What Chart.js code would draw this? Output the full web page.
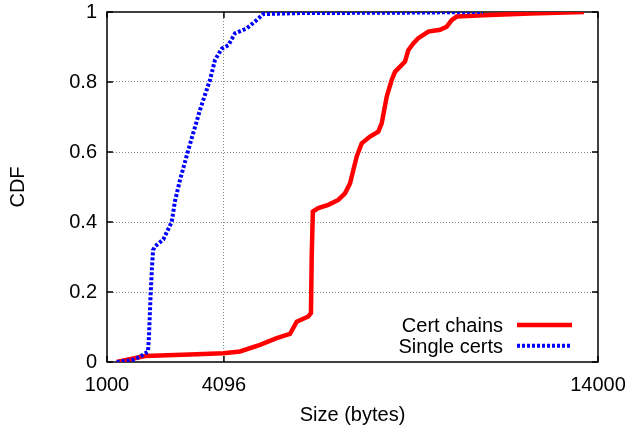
<!DOCTYPE html>
<html><head><meta charset="utf-8">
<script src="https://cdn.jsdelivr.net/npm/chart.js@4/dist/chart.umd.min.js"></script>
<style>html,body{margin:0;padding:0;background:#fff}</style>
</head><body>
<canvas id="c" width="631" height="425" style="display:block;width:631px;height:425px"></canvas>
<script>
// ---- data ----
const seriesLabels = ['Cert chains', 'Single certs'];
const certChainsX = [1257, 1696, 2006, 3000, 4079, 4521, 5051, 5493, 5845, 6023, 6330, 6400, 6420, 6450, 6594, 6859, 7124, 7301, 7434, 7611, 7744, 7964, 8183, 8273, 8406, 8538, 8625, 8890, 8977, 9110, 9242, 9507, 9817, 9994, 10126, 10259, 10964, 12200, 13630];
const certChainsY = [0, 0.01, 0.017, 0.021, 0.025, 0.03, 0.049, 0.068, 0.08, 0.115, 0.13, 0.14, 0.30, 0.43, 0.44, 0.449, 0.463, 0.482, 0.51, 0.587, 0.625, 0.644, 0.658, 0.682, 0.758, 0.806, 0.829, 0.858, 0.891, 0.91, 0.925, 0.944, 0.949, 0.958, 0.977, 0.987, 0.991, 0.996, 1.0];
const singleCertsX = [1257, 1654, 1874, 2086, 2110, 2150, 2190, 2220, 2271, 2491, 2713, 2800, 2933, 3153, 3462, 3727, 3860, 4037, 4212, 4389, 4699, 4964, 5138, 6110, 8758, 10955];
const singleCertsY = [0, 0.005, 0.015, 0.03, 0.07, 0.18, 0.27, 0.32, 0.33, 0.35, 0.40, 0.46, 0.52, 0.606, 0.72, 0.806, 0.863, 0.895, 0.905, 0.939, 0.953, 0.977, 0.994, 0.997, 0.998, 1.0];
const xTickValues = [1000, 4096, 14000];
const yTickValues = [0, 0.2, 0.4, 0.6, 0.8, 1];
const xTitle = 'Size (bytes)';
const yTitle = 'CDF';

const FONT = '"Liberation Sans", Arial, Helvetica, sans-serif';
Chart.defaults.font.family = FONT;
Chart.defaults.color = '#000';

const toPts = (xs, ys) => xs.map((x, i) => ({x: x, y: ys[i]}));

const framePlugin = {
  id: 'frame',
  beforeDatasetsDraw(chart) {
    const {ctx, chartArea: a, scales: {x, y}} = chart;
    ctx.save();
    ctx.strokeStyle = '#000';
    ctx.lineWidth = 1.5;
    ctx.beginPath();
    xTickValues.forEach(v => {
      const px = x.getPixelForValue(v);
      ctx.moveTo(px, a.bottom); ctx.lineTo(px, a.bottom - 6);
      ctx.moveTo(px, a.top); ctx.lineTo(px, a.top + 6);
    });
    yTickValues.forEach(v => {
      const py = y.getPixelForValue(v);
      ctx.moveTo(a.left, py); ctx.lineTo(a.left + 6, py);
      ctx.moveTo(a.right, py); ctx.lineTo(a.right - 6, py);
    });
    ctx.stroke();
    ctx.strokeRect(a.left, a.top, a.right - a.left, a.bottom - a.top);
    ctx.restore();
  }
};

const legendPlugin = {
  id: 'insideLegend',
  afterDraw(chart) {
    const {ctx, chartArea: a} = chart;
    ctx.save();
    ctx.font = '20px ' + FONT;
    ctx.textAlign = 'right';
    ctx.textBaseline = 'alphabetic';
    chart.data.datasets.forEach((ds, i) => {
      const cy = a.bottom - 37 + i * 20.7;
      ctx.fillStyle = '#000';
      ctx.fillText(ds.label, a.right - 95, cy + 7);
      ctx.strokeStyle = ds.borderColor;
      ctx.lineWidth = ds.borderWidth;
      ctx.setLineDash(ds.borderDash || []);
      ctx.beginPath();
      ctx.moveTo(a.right - 81, cy);
      ctx.lineTo(a.right - 26, cy);
      ctx.stroke();
    });
    ctx.restore();
  }
};

new Chart(document.getElementById('c'), {
  type: 'line',
  data: {
    datasets: [
      {label: seriesLabels[0], data: toPts(certChainsX, certChainsY), borderColor: '#ff0000', borderWidth: 4.5, pointRadius: 0, tension: 0, fill: false, order: 1},
      {label: seriesLabels[1], data: toPts(singleCertsX, singleCertsY), borderColor: '#0000ff', borderWidth: 4, borderDash: [3, 2], borderCapStyle: 'butt', pointRadius: 0, tension: 0, fill: false, order: 0}
    ]
  },
  options: {
    responsive: false,
    animation: false,
    devicePixelRatio: 1,
    layout: {padding: {top: 12, right: 33, left: 0, bottom: 0}},
    plugins: {legend: {display: false}, tooltip: {enabled: false}},
    scales: {
      x: {
        type: 'linear', min: 1000, max: 14000,
        afterBuildTicks(s) { s.ticks = xTickValues.map(v => ({value: v})); },
        afterFit(s) { s.height = 63; s.paddingLeft = 0; s.paddingRight = 0; s.paddingTop = 0; s.paddingBottom = 0; },
        grid: {
          color: c => (c.tick && c.tick.value !== 1000 && c.tick.value !== 14000) ? '#888' : 'rgba(0,0,0,0)',
          drawTicks: false, lineWidth: 1
        },
        border: {display: false, dash: [1, 2]},
        ticks: {font: {size: 20}, color: '#000', padding: 11, autoSkip: false, maxRotation: 0, callback: v => String(v)},
        title: {display: true, text: xTitle, color: '#000', font: {size: 20, lineHeight: 1}, padding: 0}
      },
      y: {
        type: 'linear', min: 0, max: 1,
        afterBuildTicks(s) { s.ticks = yTickValues.map(v => ({value: v})); },
        afterFit(s) { s.width = 107; s.paddingLeft = 0; s.paddingRight = 0; s.paddingTop = 0; s.paddingBottom = 0; },
        grid: {
          color: c => (c.tick && c.tick.value > 0 && c.tick.value < 1) ? '#888' : 'rgba(0,0,0,0)',
          drawTicks: false, lineWidth: 1
        },
        border: {display: false, dash: [1, 2]},
        ticks: {font: {size: 20}, color: '#000', padding: 10, callback: v => String(v)},
        title: {display: true, text: yTitle, color: '#000', font: {size: 20, lineHeight: 1.2}, padding: {top: 6, bottom: 0}}
      }
    }
  },
  plugins: [framePlugin, legendPlugin]
});
</script>
</body></html>
